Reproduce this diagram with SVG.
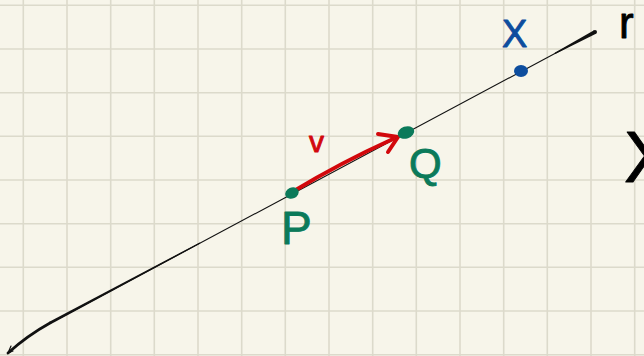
<svg xmlns="http://www.w3.org/2000/svg" width="644" height="356" viewBox="0 0 644 356">
  <style>
    .grid line { stroke: #dcdacb; stroke-width: 1.6; }
    .hand { font-family: "Liberation Sans", "DejaVu Sans", sans-serif; stroke-width: 0.9; stroke-linejoin: round; }
    .green { fill: #0b7a5a; stroke: #0b7a5a; }
    .blue { fill: #0d4d9e; stroke: #0d4d9e; }
    .red { fill: #d2080c; stroke: #d2080c; }
    .ink { fill: #000; stroke: #000; }
  </style>
  <rect width="644" height="356" fill="#f7f5ea"/>
  <g class="grid">
    <line x1="23.3" y1="0" x2="23.3" y2="356"/>
    <line x1="67" y1="0" x2="67" y2="356"/>
    <line x1="110.7" y1="0" x2="110.7" y2="356"/>
    <line x1="154.3" y1="0" x2="154.3" y2="356"/>
    <line x1="198" y1="0" x2="198" y2="356"/>
    <line x1="241.7" y1="0" x2="241.7" y2="356"/>
    <line x1="285.3" y1="0" x2="285.3" y2="356"/>
    <line x1="329" y1="0" x2="329" y2="356"/>
    <line x1="372.7" y1="0" x2="372.7" y2="356"/>
    <line x1="416.3" y1="0" x2="416.3" y2="356"/>
    <line x1="460" y1="0" x2="460" y2="356"/>
    <line x1="503.7" y1="0" x2="503.7" y2="356"/>
    <line x1="547.3" y1="0" x2="547.3" y2="356"/>
    <line x1="591" y1="0" x2="591" y2="356"/>
    <line x1="634.7" y1="0" x2="634.7" y2="356"/>
    <line x1="0" y1="5.3" x2="644" y2="5.3"/>
    <line x1="0" y1="49" x2="644" y2="49"/>
    <line x1="0" y1="92.7" x2="644" y2="92.7"/>
    <line x1="0" y1="136.3" x2="644" y2="136.3"/>
    <line x1="0" y1="180" x2="644" y2="180"/>
    <line x1="0" y1="223.7" x2="644" y2="223.7"/>
    <line x1="0" y1="267.3" x2="644" y2="267.3"/>
    <line x1="0" y1="311" x2="644" y2="311"/>
    <line x1="0" y1="354.7" x2="644" y2="354.7"/>
  </g>
  <g id="connectors" stroke-linecap="round" stroke-linejoin="round">
    <path d="M60,318 L595,32" fill="none" stroke="#111" stroke-width="1.1"/>
    <path d="M8,353 C18,344 32,333 50,323" fill="none" stroke="#111" stroke-width="2.8"/>
    <polygon points="50.66,324.23 200.28,243.53 199.72,242.47 49.34,321.77" fill="#111"/>
    <path d="M8,353 L11,346 M8,353 L13,351" fill="none" stroke="#111" stroke-width="1.2"/>
    <polygon points="555.28,53.93 595.94,33.76 594.06,30.24 554.72,52.87" fill="#111"/>
    <circle cx="595" cy="32" r="2" fill="#111"/>
    <path d="M294,191 Q340,163 393,139" fill="none" stroke="#d2080c" stroke-width="4"/>
    <path d="M378,134 L398,137 L388,152" fill="none" stroke="#d2080c" stroke-width="4"/>
  </g>
  <g id="node-P">
    <ellipse cx="292" cy="193" rx="7" ry="5.5" transform="rotate(-25 292 193)" fill="#0b7a5a"/>
    <text x="281" y="244" font-size="46" class="hand green">P</text>
  </g>
  <g id="node-Q">
    <ellipse cx="406" cy="132.5" rx="8.5" ry="6" transform="rotate(-20 406 132.5)" fill="#0b7a5a"/>
    <text x="409" y="178" font-size="42" class="hand green">Q</text>
  </g>
  <g id="node-X">
    <ellipse cx="521" cy="71" rx="7" ry="6" fill="#0d4d9e"/>
    <text x="502" y="47" font-size="38" class="hand blue">X</text>
  </g>
  <g id="label-v">
    <text x="309" y="152" font-size="30" class="hand red">v</text>
  </g>
  <g id="edge-text">
    <text x="619" y="38" font-size="44" class="hand ink">r</text>
    <text x="624" y="182" font-size="72" class="hand ink">X</text>
  </g>
</svg>
